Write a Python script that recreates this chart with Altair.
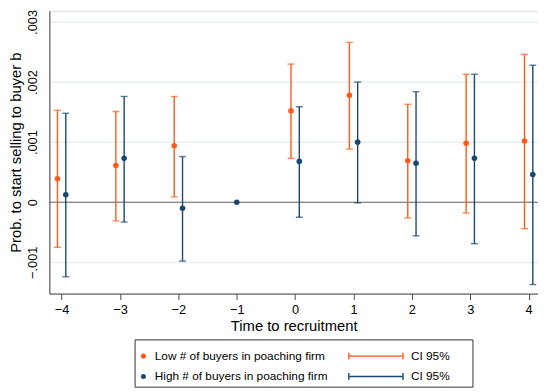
import altair as alt
import pandas as pd

FONT = "Liberation Sans"
ORANGE = "#ff5a1a"
NAVY = "#1a476f"

# ---- data (values in units of 0.001) ----
low_t = [-4, -3, -2, 0, 1, 2, 3, 4]
low_est = [0.39, 0.61, 0.94, 1.52, 1.78, 0.69, 0.98, 1.02]
low_lo = [-0.75, -0.31, 0.09, 0.73, 0.885, -0.26, -0.18, -0.44]
low_hi = [1.53, 1.51, 1.76, 2.30, 2.66, 1.63, 2.13, 2.46]

high_t = [-4, -3, -2, -1, 0, 1, 2, 3, 4]
high_est = [0.125, 0.73, -0.10, 0.0, 0.68, 1.00, 0.65, 0.73, 0.46]
high_lo = [-1.24, -0.33, -0.98, None, -0.25, -0.01, -0.56, -0.69, -1.37]
high_hi = [1.48, 1.76, 0.76, None, 1.59, 2.00, 1.84, 2.13, 2.28]

series_names = ["Low # of buyers in poaching firm", "High # of buyers in poaching firm"]
ci_label = "CI 95%"
x_ticks = [-4, -3, -2, -1, 0, 1, 2, 3, 4]
y_ticks = [-0.001, 0, 0.001, 0.002, 0.003]

rows = []
for t, e, lo, hi in zip(low_t, low_est, low_lo, low_hi):
    rows.append(dict(series=series_names[0], t=t, xp=t - 0.071, est=e / 1000,
                     lo=lo / 1000 if lo is not None else None,
                     hi=hi / 1000 if hi is not None else None))
for t, e, lo, hi in zip(high_t, high_est, high_lo, high_hi):
    rows.append(dict(series=series_names[1], t=t, xp=(t + 0.071) if t != -1 else t, est=e / 1000,
                     lo=lo / 1000 if lo is not None else None,
                     hi=hi / 1000 if hi is not None else None))
df = pd.DataFrame(rows)
ci_df = df.dropna(subset=["lo", "hi"])

W, H = 496, 287
xscale = alt.Scale(domain=[-4.21, 4.16], nice=False, zero=False)
yscale = alt.Scale(domain=[-0.00152, 0.003185], nice=False, zero=False)
cscale = alt.Scale(domain=series_names, range=[ORANGE, NAVY])

x_enc = alt.X("xp:Q", scale=xscale, axis=alt.Axis(
    values=x_ticks, format="d", title="Time to recruitment", grid=False,
    domainColor="#444", tickColor="#444", tickSize=6, labelFontSize=13,
    labelColor="black", labelPadding=4, titleFontSize=15, titleFontWeight="normal",
    titleColor="black", titlePadding=2, labelFont=FONT, titleFont=FONT))
y_axis = alt.Axis(
    values=y_ticks, title="Prob. to start selling to buyer b",
    labelExpr="datum.value == 0 ? '0' : replace(format(datum.value, '.3f'), '0.', '.')",
    labelAngle=270, labelAlign="center", labelBaseline="bottom", labelPadding=10,
    labelFontSize=13, labelColor="black", ticks=False,
    grid=True, gridColor="#e6eff1", gridWidth=1.5,
    domainColor="#444", titleFontSize=15, titleFontWeight="normal", titleColor="black",
    titlePadding=3, labelFont=FONT, titleFont=FONT)

base = alt.Chart(df)
zero = alt.Chart(pd.DataFrame({"z": [0.0]})).mark_rule(color="#666", strokeWidth=1).encode(
    y=alt.Y("z:Q", scale=yscale, axis=y_axis))
bars = alt.Chart(ci_df).mark_rule(strokeWidth=1.4).encode(
    x=x_enc, y=alt.Y("lo:Q", scale=yscale), y2="hi:Q",
    color=alt.Color("series:N", scale=cscale, legend=None))
cap_lo = alt.Chart(ci_df).mark_tick(orient="horizontal", size=7, thickness=1.4).encode(
    x=alt.X("xp:Q", scale=xscale), y=alt.Y("lo:Q", scale=yscale),
    color=alt.Color("series:N", scale=cscale, legend=None))
cap_hi = alt.Chart(ci_df).mark_tick(orient="horizontal", size=7, thickness=1.4).encode(
    x=alt.X("xp:Q", scale=xscale), y=alt.Y("hi:Q", scale=yscale),
    color=alt.Color("series:N", scale=cscale, legend=None))
pts = base.mark_circle(size=32, opacity=1).encode(
    x=alt.X("xp:Q", scale=xscale), y=alt.Y("est:Q", scale=yscale),
    color=alt.Color("series:N", scale=cscale, legend=None))

# ---- custom legend drawn below the plot (pixel positions relative to plot) ----
one = pd.DataFrame({"a": [0]})
box = alt.Chart(one).mark_rect(fill="white", stroke="#333", strokeWidth=1).encode(
    x=alt.value(87), x2=alt.value(430), y=alt.value(334), y2=alt.value(382))
legend_layers = [box]
for i, (name, col) in enumerate(zip(series_names, [ORANGE, NAVY])):
    yy = 350.5 + i * 20.7
    legend_layers.append(alt.Chart(one).mark_circle(size=26, color=col, opacity=1).encode(
        x=alt.value(95.5), y=alt.value(yy)))
    legend_layers.append(alt.Chart(pd.DataFrame({"label": [name]})).mark_text(
        align="left", baseline="middle", fontSize=12, font=FONT, color="black").encode(
        x=alt.value(107), y=alt.value(yy), text="label:N"))
    legend_layers.append(alt.Chart(one).mark_rule(color=col, strokeWidth=1.4).encode(
        x=alt.value(304), x2=alt.value(359), y=alt.value(yy)))
    for xx in (304, 359):
        legend_layers.append(alt.Chart(one).mark_rule(color=col, strokeWidth=1.4).encode(
            x=alt.value(xx), y=alt.value(yy - 3.5), y2=alt.value(yy + 3.5)))
    legend_layers.append(alt.Chart(pd.DataFrame({"label": [ci_label]})).mark_text(
        align="left", baseline="middle", fontSize=12, font=FONT, color="black").encode(
        x=alt.value(367), y=alt.value(yy), text="label:N"))

chart = alt.layer(zero, bars, cap_lo, cap_hi, pts, *legend_layers).properties(
    width=W, height=H,
    autosize=alt.AutoSizeParams(type="none"),
    padding={"left": 42, "top": 0, "right": 0, "bottom": 96},
).configure_view(stroke=None).configure(background="white")

chart.save("out.html", embed_options={"renderer": "svg", "actions": False})
